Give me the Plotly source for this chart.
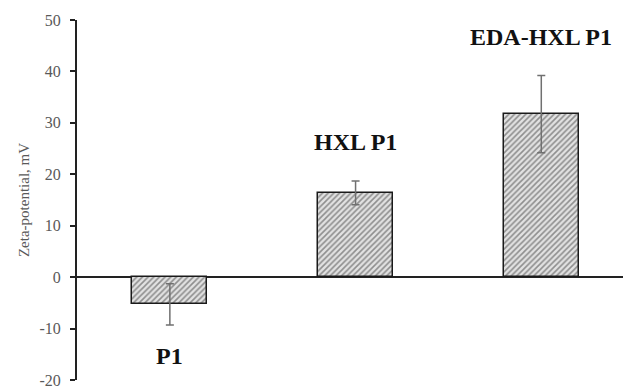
import plotly.graph_objects as go

# Zeta-potential measurements (mV) with standard deviations
samples = ["P1", "HXL P1", "EDA-HXL P1"]
zeta_mv = [-5.3, 16.4, 31.7]
zeta_sd = [4.0, 2.3, 7.5]
label_y = [-15.3, 26.2, 46.6]
y_ticks = [-20, -10, 0, 10, 20, 30, 40, 50]
y_tick_labels = ["-20", "-10", "0", "10", "20", "30", "40", "50"]

x_pos = list(range(len(samples)))

fig = go.Figure()
fig.add_trace(go.Bar(
    x=x_pos,
    y=zeta_mv,
    width=0.405,
    marker=dict(
        color="#e2e2e2",
        line=dict(color="#1a1a1a", width=1.5),
        pattern=dict(shape="/", fgcolor="#3a3a3a", size=4, solidity=0.4),
    ),
    error_y=dict(type="data", array=zeta_sd, visible=True,
                 color="#707070", thickness=1.5, width=4),
    showlegend=False,
))

for xi, name, ly in zip(x_pos, samples, label_y):
    fig.add_annotation(
        x=xi, y=ly, text=f"<b>{name}</b>", showarrow=False,
        font=dict(family="Liberation Serif", size=24, color="#111111"),
        xanchor="center", yanchor="middle",
    )

fig.update_layout(
    width=623, height=389,
    margin=dict(l=77, r=0, t=20, b=9),
    paper_bgcolor="white", plot_bgcolor="white",
    font=dict(family="Liberation Serif", color="#595959"),
    bargap=0,
)
fig.update_xaxes(range=[-0.5, 2.44], showticklabels=False, showgrid=False,
                 zeroline=False, showline=False, ticks="")
fig.update_yaxes(
    range=[-20, 50], tickvals=y_ticks, ticktext=y_tick_labels, showgrid=False,
    zeroline=True, zerolinecolor="#222222", zerolinewidth=2,
    showline=True, linecolor="#222222", linewidth=2,
    ticks="outside", ticklen=5, tickcolor="#222222", tickwidth=1.5,
    ticklabelstandoff=6,
    tickfont=dict(family="Liberation Serif", size=16, color="#595959"),
    title=dict(text="Zeta-potential, mV", standoff=6,
               font=dict(family="Liberation Serif", size=15, color="#595959")),
)

fig.write_html("out.html")
